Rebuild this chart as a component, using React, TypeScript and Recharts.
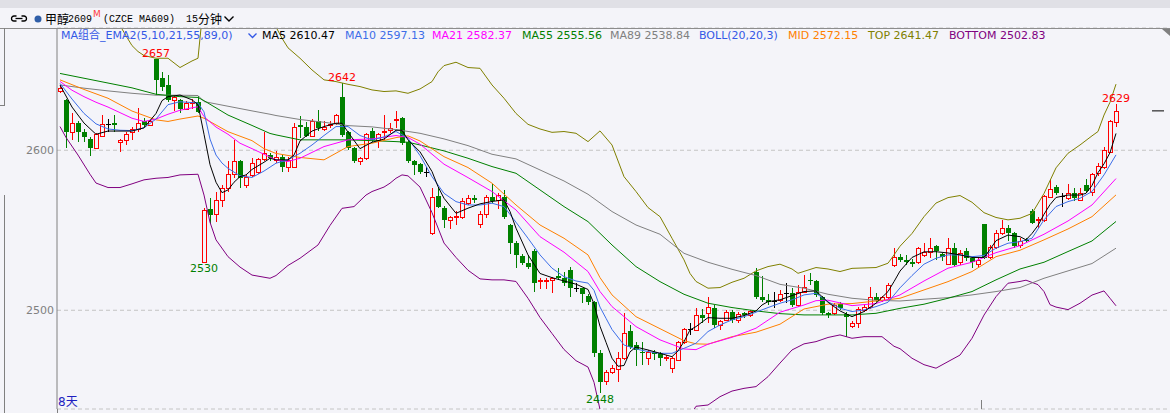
import React from "react";
import {
  ComposedChart,
  Bar,
  Line,
  XAxis,
  YAxis,
  CartesianGrid,
  ReferenceDot,
  ReferenceLine,
} from "recharts";

// 15-minute candles, oldest first
const opens = [
  2637, 2631.5, 2611.7, 2617, 2611.7, 2607, 2601.7, 2609.2, 2616.5, 2617,
  2605, 2606.5, 2611.7, 2613.3, 2618.3, 2616, 2657, 2645.4, 2641, 2631.5,
  2631.5, 2626, 2629.4, 2630, 2530, 2563.3, 2560, 2569, 2576.3, 2585,
  2593.3, 2578.3, 2584.6, 2586.7, 2594.6, 2597, 2594, 2596, 2589.8, 2589.8,
  2615.8, 2614.8, 2609.2, 2618, 2613.3, 2615.8, 2616.9, 2633.5, 2611.3, 2601.3,
  2593, 2595, 2612, 2606.5, 2611.3, 2612.7, 2619.5, 2620, 2605.4, 2593.3,
  2591.2, 2586.7, 2548, 2571.7, 2563.7, 2556.5, 2558, 2558, 2567, 2570,
  2553.7, 2560, 2571, 2569, 2571, 2553.3, 2541.9, 2534.2, 2529.4, 2537,
  2518.3, 2518.3, 2519, 2521.7, 2520, 2525.2, 2514.2, 2513.8, 2509.2, 2505.4,
  2473, 2455.8, 2461.7, 2463.3, 2470, 2487, 2478, 2474, 2470.4, 2474,
  2473.1, 2470, 2463.7, 2469, 2480.4, 2488.3, 2487.7, 2497, 2498, 2501.7,
  2490.8, 2494, 2498.8, 2494, 2498, 2497, 2524.2, 2508.5, 2506.5, 2505.8,
  2506.5, 2510.6, 2510.6, 2503.3, 2511.7, 2519, 2518, 2508.5, 2498, 2498,
  2503.8, 2497.5, 2490.4, 2491.9, 2500.2, 2502.3, 2508.5, 2506.5, 2508.5, 2528.3,
  2533, 2531.2, 2530, 2530, 2534.6, 2536.7, 2540.2, 2535.2, 2528.8, 2538.8,
  2530, 2537.3, 2532.5, 2528.8, 2553.8, 2533.5, 2539.8, 2548.1, 2551.3, 2548.1,
  2540.8, 2544, 2562, 2556.3, 2556.5, 2571, 2577.3, 2571.7, 2570, 2573.1,
  2569, 2578.3, 2574.2, 2585.6, 2589.8, 2599.2, 2617.9,
];
const highs = [
  2640, 2632, 2623, 2618, 2613, 2608, 2611, 2622, 2619.6, 2622,
  2607, 2611.7, 2614.8, 2626.7, 2620, 2619, 2657, 2649, 2647, 2634,
  2632, 2631, 2632, 2634, 2564, 2570, 2574, 2578.3, 2593, 2606.5,
  2594, 2584.6, 2595, 2595.4, 2611.7, 2598, 2599.6, 2597, 2596, 2617,
  2621.7, 2617.5, 2619.6, 2625.2, 2618, 2618, 2622.5, 2642, 2612, 2602,
  2596, 2610.6, 2614, 2611, 2622, 2616.9, 2624.6, 2620.5, 2606, 2594,
  2592, 2589.8, 2576.3, 2576.7, 2565, 2559, 2562, 2570, 2572, 2572,
  2562, 2572, 2578.8, 2573, 2575.2, 2554, 2543, 2535, 2534.6, 2538,
  2520, 2520, 2521, 2526.3, 2524, 2527, 2516.9, 2514, 2510, 2506,
  2475, 2462.7, 2465.8, 2474.2, 2498, 2490.8, 2480.4, 2480, 2475.2, 2475,
  2474, 2472, 2471, 2481, 2488.8, 2492, 2501.3, 2501, 2508.5, 2503,
  2494, 2500.2, 2500, 2499, 2499, 2500, 2526.3, 2521.7, 2510, 2511.7,
  2512.7, 2516.9, 2513.8, 2515.8, 2522, 2523.1, 2519, 2509, 2499, 2504.4,
  2505, 2499, 2493, 2502, 2504, 2514.8, 2510.6, 2509, 2517, 2538.8,
  2535, 2534.6, 2532, 2539.8, 2541.9, 2545, 2541, 2536, 2545, 2541.9,
  2537.7, 2539, 2533, 2533, 2554, 2541, 2550, 2556.5, 2553, 2549,
  2545, 2545, 2563, 2558, 2572, 2582, 2578.3, 2573, 2578.8, 2576.7,
  2576.7, 2582, 2586, 2591.9, 2602, 2619, 2629,
];
const lows = [
  2636, 2601.7, 2606.5, 2605, 2605, 2596.7, 2601, 2608, 2611.7, 2611.7,
  2599, 2603, 2606.5, 2611.3, 2614, 2615, 2634.6, 2637, 2630, 2624.6,
  2623, 2625, 2626, 2623, 2530, 2553.7, 2555, 2564.8, 2574, 2582.5,
  2576.7, 2576.7, 2583, 2585, 2593, 2593, 2592, 2586.7, 2586.7, 2589,
  2607.5, 2608, 2608, 2612, 2612, 2614, 2616, 2608, 2600.2, 2591.9,
  2591, 2594, 2605, 2601.7, 2606.5, 2611, 2614.2, 2603, 2592, 2584.6,
  2585, 2583.5, 2547, 2563.7, 2551.2, 2550.8, 2553.3, 2557, 2566, 2567,
  2551.7, 2557.9, 2567, 2563.3, 2557, 2535, 2526.3, 2528, 2526, 2511.7,
  2513.3, 2513, 2510.6, 2519, 2515, 2508.5, 2511.7, 2504.4, 2503, 2471,
  2448, 2453.3, 2460, 2455, 2469, 2476, 2465.4, 2465.8, 2465.8, 2469,
  2465.4, 2468, 2460.6, 2468, 2479, 2484.6, 2487, 2491.9, 2492, 2488.8,
  2487.7, 2493, 2492, 2492, 2495, 2496, 2507, 2505.4, 2503, 2501.3,
  2505, 2504.4, 2502, 2502, 2511, 2516, 2508, 2497, 2495, 2497,
  2500, 2483.5, 2489, 2488.8, 2499, 2501, 2505, 2505, 2507, 2527,
  2530, 2528, 2527, 2529, 2533, 2532.5, 2531.5, 2531, 2528, 2527,
  2528, 2531, 2526.7, 2526.3, 2532, 2532, 2538, 2547, 2543, 2539.2,
  2539, 2541.9, 2553.8, 2551.3, 2555, 2570, 2572, 2564.8, 2569, 2568,
  2568, 2573, 2571.7, 2584, 2588, 2598, 2614.8,
];
const closes = [
  2639, 2611.3, 2617, 2611.7, 2608, 2601.7, 2610, 2616.3, 2616.5, 2616,
  2606.5, 2610, 2613, 2617, 2616, 2618.3, 2644, 2639.8, 2631.5, 2633.5,
  2626, 2629.8, 2630.4, 2624.2, 2562.7, 2559.6, 2569, 2576.3, 2585, 2593.3,
  2582.5, 2583.5, 2591.9, 2594.6, 2598, 2595, 2596, 2589.8, 2594, 2614.8,
  2614.8, 2609.2, 2618, 2614.2, 2614.8, 2616.3, 2622, 2609.6, 2601.3, 2593,
  2595, 2610, 2606.5, 2610, 2612, 2614.2, 2619.6, 2604.4, 2593, 2590.8,
  2586.7, 2586.7, 2571, 2564.8, 2556.5, 2558, 2559.2, 2568, 2570, 2569,
  2560, 2571, 2568.3, 2572, 2558.5, 2541.9, 2534.6, 2529.4, 2527.3, 2516.9,
  2519, 2519, 2520, 2520, 2516.9, 2513.8, 2514.2, 2510, 2505, 2473.1,
  2455.4, 2461.7, 2464.2, 2470.4, 2485.6, 2477.3, 2475.2, 2473, 2473.8, 2472.5,
  2470, 2471, 2470, 2480, 2488.3, 2488.3, 2497, 2495, 2502.3, 2490.8,
  2493.3, 2498.8, 2494, 2497.5, 2497, 2499.6, 2508.5, 2506.5, 2505, 2505.8,
  2510, 2510.6, 2503.3, 2511.7, 2514.8, 2518, 2509.6, 2498, 2497, 2503.3,
  2501.7, 2496, 2491.9, 2500.8, 2502.3, 2508.5, 2506.5, 2508, 2515.8, 2533,
  2531.5, 2530, 2528.8, 2538.8, 2536.7, 2538.8, 2537, 2533.1, 2538.8, 2528.3,
  2536, 2532.5, 2530.4, 2531.5, 2532.9, 2539.8, 2548.1, 2551.7, 2548.1, 2540.4,
  2543.3, 2543, 2554.4, 2556.9, 2571.7, 2575.8, 2573.1, 2571.7, 2573.5, 2570.4,
  2573.1, 2574.8, 2585, 2590.4, 2600.2, 2618.3, 2624.6,
];

// indicator lines, read as [candle index, value]
const ma5: [number, number][] = [
  [0, 2640.8], [2, 2627], [4, 2617], [6, 2610], [8, 2612], [10, 2612], [12, 2612], [14, 2614],
  [16, 2623], [17, 2631], [18, 2633.5], [20, 2634.5], [22, 2631.5], [23, 2628.5], [24, 2610],
  [25, 2591], [26, 2580], [27, 2573.5], [28, 2575.2], [29, 2580], [30, 2583.5], [31, 2584.6],
  [32, 2588], [34, 2592.5], [35, 2595], [36, 2594], [38, 2594], [39, 2597], [40, 2605.8],
  [42, 2612], [44, 2614.8], [46, 2616.9], [47, 2616.9], [48, 2611.3], [50, 2601], [52, 2605],
  [54, 2607], [56, 2612.5], [57, 2612.5], [58, 2606.5], [60, 2599], [62, 2586.7], [63, 2577.3],
  [64, 2570], [66, 2560.6], [68, 2563.8], [70, 2566.5], [72, 2568], [74, 2569], [75, 2561.7],
  [76, 2551.3], [78, 2534.6], [80, 2523], [82, 2520.4], [84, 2518.3], [86, 2516.3], [88, 2513],
  [89, 2504], [90, 2490], [91, 2480], [92, 2470], [93, 2465], [94, 2465.5], [95, 2474],
  [96, 2477], [98, 2475.2], [100, 2473.1], [102, 2471], [103, 2474.6], [104, 2480.4],
  [105, 2487.7], [106, 2489.8], [108, 2495.4], [110, 2495], [112, 2495], [114, 2496.7],
  [116, 2499.6], [117, 2503.3], [118, 2505.4], [120, 2506.5], [122, 2509.2], [124, 2511.7],
  [126, 2512.1], [128, 2505], [130, 2499.6], [132, 2496], [134, 2499.2], [136, 2504.4],
  [138, 2511.7], [139, 2517.9], [140, 2524.5], [142, 2533], [144, 2536.5], [146, 2536.6],
  [148, 2535.8], [150, 2534.6], [152, 2533], [154, 2533], [155, 2538], [156, 2543.5],
  [158, 2547], [160, 2546], [161, 2544], [162, 2548], [163, 2553], [164, 2560], [165, 2566],
  [166, 2570.5], [168, 2572], [170, 2572], [171, 2573.1], [172, 2578], [173, 2586],
  [174, 2591.5], [175, 2598.5], [176, 2610.5],
];
const ma10: [number, number][] = [
  [0, 2641.8], [2, 2632], [4, 2623], [6, 2616.5], [8, 2613.3], [10, 2612.5], [12, 2612.3],
  [14, 2614], [16, 2619.5], [18, 2628.5], [20, 2630.3], [22, 2629.8], [23, 2629.5], [24, 2624],
  [25, 2607], [26, 2597], [27, 2592], [28, 2588.7], [30, 2584], [32, 2583], [34, 2587],
  [36, 2591.9], [38, 2594], [40, 2598.1], [42, 2603.3], [44, 2609.2], [46, 2614.8], [48, 2614.8],
  [50, 2609.2], [52, 2606.5], [54, 2608.3], [56, 2611.7], [58, 2607.5], [60, 2596.7],
  [62, 2583.5], [64, 2573.1], [66, 2567.9], [68, 2565.8], [70, 2565.8], [72, 2566.9],
  [74, 2564.8], [76, 2555], [78, 2545], [80, 2534.6], [82, 2526.3], [84, 2521], [86, 2518.3],
  [88, 2517], [89, 2512.5], [90, 2502], [91, 2495], [92, 2488], [94, 2478.3], [96, 2475.8],
  [98, 2474.2], [100, 2473.1], [102, 2473.1], [104, 2476.2], [106, 2479.4], [108, 2486.7],
  [110, 2490.8], [112, 2494], [114, 2496], [116, 2498.8], [118, 2501.7], [120, 2504.4],
  [122, 2506.5], [124, 2509.6], [126, 2510.6], [128, 2505.4], [130, 2501.3], [132, 2499.2],
  [134, 2500.2], [136, 2502.3], [138, 2505], [140, 2514], [142, 2521.7], [144, 2528.8],
  [146, 2532.5], [148, 2534.6], [150, 2534.6], [152, 2533.5], [154, 2534.2], [156, 2538.8],
  [158, 2541.9], [160, 2542.9], [162, 2545], [164, 2556.5], [166, 2564.8], [168, 2567.9],
  [170, 2570], [172, 2574.2], [174, 2584.6], [176, 2597.1],
];
const ma21: [number, number][] = [
  [0, 2643], [2, 2637.5], [4, 2633.5], [6, 2630], [8, 2627], [10, 2623.5], [12, 2620],
  [14, 2618], [16, 2619.5], [18, 2622.5], [20, 2625], [22, 2626.5], [23, 2627.2], [24, 2621],
  [26, 2614.5], [28, 2610], [30, 2604.4], [32, 2601], [36, 2594], [38, 2593], [40, 2595],
  [44, 2602.3], [48, 2606.5], [52, 2607.1], [56, 2609.2], [58, 2608], [60, 2603.8],
  [64, 2591.3], [68, 2582.9], [72, 2574.2], [76, 2562.7], [80, 2546], [84, 2536.3],
  [88, 2524.2], [90, 2511.7], [92, 2502.3], [96, 2489.8], [100, 2481.5], [104, 2475.8],
  [106, 2475.4], [108, 2478.8], [112, 2483.1], [116, 2488.8], [120, 2498.8], [124, 2503.3],
  [126, 2506], [128, 2506.3], [132, 2502.9], [136, 2504.2], [140, 2509.6], [144, 2518.3],
  [148, 2526.3], [152, 2530], [156, 2536], [160, 2540.4], [164, 2547.5], [168, 2555.8],
  [172, 2565.8], [176, 2582.3],
];
const ma55: [number, number][] = [
  [0, 2648], [4, 2645], [8, 2642], [12, 2639], [16, 2635], [20, 2633.5], [23, 2633],
  [24, 2631], [28, 2622], [32, 2615.5], [35, 2610.5], [36, 2609.6], [40, 2606.5], [44, 2606.5],
  [48, 2606.5], [52, 2606], [56, 2605.4], [58, 2605], [60, 2603.3], [64, 2599.6], [68, 2595],
  [72, 2589.8], [76, 2585.6], [80, 2575.2], [84, 2564.8], [88, 2555.4], [92, 2540.8],
  [96, 2527.3], [100, 2517.9], [104, 2510], [108, 2504.4], [112, 2501.7], [116, 2499.6],
  [120, 2497.9], [124, 2497.1], [128, 2497.1], [132, 2497.1], [136, 2498.1], [140, 2501.2],
  [144, 2503.8], [148, 2507.5], [152, 2511.7], [156, 2519], [160, 2525.8], [164, 2530],
  [168, 2536.7], [172, 2543.3], [176, 2555.5],
];
const ma89: [number, number][] = [
  [0, 2640.8], [4, 2638.8], [8, 2637.1], [12, 2635.6], [16, 2634.4], [20, 2634.4], [23, 2634.2],
  [24, 2630.4], [28, 2627.5], [32, 2624.6], [35, 2622.5], [36, 2621.7], [40, 2619.2],
  [44, 2617.5], [48, 2615.4], [52, 2614.6], [56, 2612.9], [60, 2610.6], [64, 2607.1],
  [68, 2602.9], [72, 2597.5], [76, 2594.6], [80, 2587.7], [84, 2580.8], [88, 2572.5],
  [92, 2561.7], [96, 2553.3], [100, 2547.5], [104, 2535.6], [108, 2530], [112, 2525.6],
  [116, 2521.7], [120, 2516.2], [124, 2513.8], [128, 2510], [132, 2507.5], [136, 2506.2],
  [140, 2505.8], [144, 2506.9], [148, 2507.9], [152, 2509.6], [156, 2511.7], [160, 2514.2],
  [164, 2520], [168, 2524.6], [172, 2529.2], [176, 2538.8],
];
const bollMid: [number, number][] = [
  [0, 2644], [4, 2638], [8, 2632.5], [12, 2624.5], [16, 2619], [18, 2618], [20, 2619.5],
  [23, 2621.4], [24, 2620], [28, 2611.6], [32, 2606], [34, 2601], [36, 2598], [40, 2595.5],
  [44, 2594], [48, 2602.3], [52, 2604.4], [56, 2607.9], [58, 2609], [60, 2605.8], [64, 2596],
  [68, 2589.2], [72, 2579.4], [76, 2565.8], [80, 2553.3], [84, 2545], [88, 2534.6],
  [90, 2520.4], [92, 2509.6], [96, 2496], [100, 2488.5], [104, 2481], [106, 2479],
  [108, 2478.8], [112, 2483.5], [116, 2486.3], [120, 2491.3], [124, 2500.8], [128, 2503.8],
  [132, 2504.2], [136, 2505.8], [140, 2507.5], [144, 2512.7], [148, 2517.9], [152, 2524.2],
  [156, 2533.5], [160, 2537.5], [164, 2544], [168, 2550.8], [172, 2558.5], [176, 2572.1],
];
const bollTop: [number, number][] = [
  [0, 2692], [4, 2690], [8, 2684], [10, 2678], [11, 2671.5], [12, 2665.4], [13, 2661.7],
  [14, 2659.2], [16, 2657.5], [18, 2657.5], [20, 2651.7], [22, 2655.8], [23, 2657.5],
  [24, 2695], [28, 2708], [32, 2702], [35, 2684], [37, 2670], [38, 2664], [40, 2657.5],
  [42, 2650.2], [44, 2644], [46, 2642.9], [48, 2641.2], [50, 2639.8], [52, 2637.7],
  [54, 2636.7], [56, 2637.1], [58, 2635.6], [60, 2638.3], [62, 2642.9], [63, 2649],
  [64, 2652.9], [66, 2655], [68, 2651.7], [70, 2651.2], [72, 2640.8], [74, 2632.5],
  [76, 2623], [78, 2616.2], [80, 2613.3], [82, 2611.2], [84, 2611.7], [86, 2610.6],
  [88, 2605.4], [90, 2612.1], [92, 2603.3], [94, 2583.5], [96, 2574.2], [98, 2564.2],
  [100, 2558.5], [102, 2545], [104, 2531.5], [105, 2523], [106, 2518], [108, 2513.8],
  [110, 2514.2], [112, 2517.5], [114, 2520], [116, 2524.6], [118, 2527.3], [120, 2528.8],
  [122, 2525.8], [123, 2523.1], [126, 2526.7], [128, 2525.8], [130, 2524.2], [132, 2526.2],
  [136, 2526.7], [138, 2529.4], [139, 2534.6], [140, 2540], [142, 2548], [144, 2558.5],
  [146, 2567], [148, 2570.4], [150, 2571.7], [152, 2567.5], [154, 2561], [156, 2558],
  [158, 2556.5], [160, 2557.5], [162, 2560.5], [164, 2573], [166, 2589], [168, 2598.1],
  [170, 2603.3], [172, 2609], [173, 2611.7], [174, 2622], [175, 2630], [176, 2641.3],
];
const bollBottom: [number, number][] = [
  [0, 2614.8], [1, 2608], [3, 2597], [5, 2585], [6, 2579.5], [8, 2576.7], [10, 2576.7],
  [12, 2579], [14, 2581.5], [16, 2582.5], [18, 2583], [20, 2584.6], [23, 2585], [24, 2572],
  [25, 2555], [26, 2544], [28, 2533.5], [30, 2527], [32, 2522], [35, 2520], [36, 2521.7],
  [38, 2528], [40, 2532.5], [43, 2540.8], [45, 2553], [47, 2563.7], [49, 2564.8], [51, 2572],
  [52, 2574.2], [54, 2577], [55, 2579.4], [56, 2582.5], [57, 2584.6], [58, 2584], [60, 2577],
  [62, 2561], [64, 2542], [66, 2533], [68, 2525], [70, 2519.6], [72, 2519], [74, 2519],
  [76, 2518], [78, 2507.5], [80, 2495.5], [82, 2485.5], [84, 2475.5], [86, 2468.5],
  [88, 2464.5], [89, 2455], [90, 2438], [92, 2425], [96, 2415], [100, 2416], [104, 2428],
  [106, 2440], [108, 2440.8], [110, 2446], [112, 2449.5], [114, 2451.2], [116, 2452.3],
  [118, 2458.5], [120, 2467], [122, 2475.2], [124, 2479], [126, 2480.4], [128, 2483],
  [130, 2484.6], [132, 2482.5], [134, 2483.5], [137, 2483.5], [139, 2477.5], [140, 2476],
  [142, 2470], [144, 2466], [146, 2463.8], [148, 2467.9], [150, 2472], [152, 2482.5],
  [154, 2497], [156, 2508.5], [158, 2516.9], [160, 2518], [161, 2518.8], [163, 2516],
  [164, 2511.7], [165, 2503.5], [166, 2502], [168, 2500.4], [170, 2504.4], [172, 2509.5],
  [174, 2512.1], [175, 2507.5], [176, 2502.8],
];

const priceTicks = [2500, 2600];
const priceDomain = [2438.3, 2676.4];
const slotCount = 185; // candles plus the empty room on the right
const peaks = [
  { i: 16, side: "high" },
  { i: 47, side: "high" },
  { i: 176, side: "high" },
  { i: 24, side: "low" },
  { i: 90, side: "low" },
];

const BG = "#f4f4f9";
const UP = "#ff0000";
const DOWN = "#008000";
const FONT = "'DejaVu Sans', Verdana, 'Noto Sans CJK SC', sans-serif";
const CJK = "'Noto Sans CJK SC', sans-serif";
const MONO = "'Liberation Mono', monospace";

const series = [
  { key: "top", pts: bollTop, color: "#808000" },
  { key: "bottom", pts: bollBottom, color: "#800080" },
  { key: "ma89", pts: ma89, color: "#808080" },
  { key: "ma55", pts: ma55, color: "#008000" },
  { key: "mid", pts: bollMid, color: "#ff8000" },
  { key: "ma21", pts: ma21, color: "#ff00ff" },
  { key: "ma10", pts: ma10, color: "#3d6ee8" },
  { key: "ma5", pts: ma5, color: "#000000" },
];

const rows = Array.from({ length: slotCount }, (_, i) => {
  const row: any = { i };
  if (i < closes.length) {
    row.range = [lows[i], highs[i]];
    row.o = opens[i];
    row.h = highs[i];
    row.l = lows[i];
    row.c = closes[i];
  }
  series.forEach((s) => {
    const hit = s.pts.find((p) => p[0] === i);
    row[s.key] = hit ? hit[1] : null;
  });
  return row;
});

function Candle(props: any) {
  const { x, y, width, height, payload } = props;
  if (!payload || payload.o == null || !isFinite(y) || !isFinite(height)) return null;
  const { o, h, l, c } = payload;
  const k = height / (h - l);
  const py = (v: number) => y + (h - v) * k;
  const p = Math.floor(x + width / 2);
  const wx = p + 0.5;
  const top = Math.round(py(Math.max(o, c)));
  const bot = Math.round(py(Math.min(o, c)));

  if (o === c) {
    return (
      <g stroke="#000" strokeWidth={1} shapeRendering="crispEdges">
        <line x1={wx} x2={wx} y1={y} y2={y + height} />
        <line x1={p - 2} x2={p + 3} y1={top + 0.5} y2={top + 0.5} />
      </g>
    );
  }
  if (c > o) {
    const bt = top + 0.5;
    const bb = Math.max(bot + 0.5, bt + 1);
    return (
      <g stroke={UP} strokeWidth={1} shapeRendering="crispEdges">
        <line x1={wx} x2={wx} y1={y} y2={bt} />
        <line x1={wx} x2={wx} y1={bb} y2={y + height} />
        <rect x={p - 1.5} y={bt} width={4} height={bb - bt} fill={BG} />
      </g>
    );
  }
  return (
    <g shapeRendering="crispEdges">
      <line x1={wx} x2={wx} y1={y} y2={y + height} stroke={DOWN} strokeWidth={1} />
      <rect x={p - 2} y={top} width={5} height={Math.max(bot - top, 1)} fill={DOWN} />
    </g>
  );
}

const abs = (style: React.CSSProperties): React.CSSProperties => ({
  position: "absolute",
  whiteSpace: "nowrap",
  ...style,
});

export default function App() {
  const last = closes[closes.length - 1];
  return (
    <div
      style={{
        position: "relative",
        width: 1170,
        height: 413,
        background: BG,
        overflow: "hidden",
        fontFamily: FONT,
      }}
    >
      <style>{`body{margin:0}`}</style>

      <div style={abs({ left: 0, top: 0 })}>
        <ComposedChart
          width={1170}
          height={413}
          data={rows}
          margin={{ top: 28, right: 3, bottom: 4, left: 0 }}
        >
          <CartesianGrid vertical={false} stroke="#c4c4c4" strokeDasharray="4 3" />
          <XAxis
            dataKey="i"
            type="category"
            height={0}
            tick={false}
            tickLine={false}
            axisLine={{ stroke: "#808080" }}
          />
          <YAxis
            domain={priceDomain}
            allowDataOverflow
            ticks={priceTicks}
            width={57}
            tickSize={0}
            tickMargin={3}
            tickLine={false}
            axisLine={{ stroke: "#808080" }}
            tick={{ fill: "#808080", fontSize: 11, fontFamily: FONT }}
          />
          <Bar
            dataKey="range"
            barSize={5}
            isAnimationActive={false}
            shape={(p: any) => <Candle {...p} />}
          />
          {series.map((s) => (
            <Line
              key={s.key}
              type="linear"
              dataKey={s.key}
              stroke={s.color}
              strokeWidth={1}
              dot={false}
              activeDot={false}
              connectNulls
              isAnimationActive={false}
            />
          ))}
          <ReferenceLine
            segment={[
              { x: 182, y: last },
              { x: 184, y: last },
            ]}
            stroke="#000"
            strokeWidth={1}
          />
          {peaks.map((pk) => {
            const v = pk.side === "high" ? highs[pk.i] : lows[pk.i];
            return (
              <ReferenceDot
                key={pk.i}
                x={pk.i}
                y={v}
                r={0}
                stroke="none"
                fill="none"
                label={{
                  value: String(Math.round(v)),
                  position: pk.side === "high" ? "top" : "bottom",
                  offset: 2,
                  fill: pk.side === "high" ? UP : "#007f00",
                  fontSize: 11,
                  fontFamily: FONT,
                }}
              />
            );
          })}
        </ComposedChart>
      </div>

      {/* window chrome */}
      <div style={abs({ left: 0, top: 0, width: 1170, height: 8, background: "#e0e0e6" })} />
      <div style={abs({ left: 0, top: 28, width: 1170, height: 1, background: "#8c8c8c" })} />
      <div style={abs({ left: 57, top: 409, width: 1, height: 4, background: "#808080" })} />
      <div style={abs({ left: 4, top: 28, width: 1, height: 77, background: "#808080" })} />
      <div style={abs({ left: 0, top: 105, width: 5, height: 1, background: "#808080" })} />
      <div style={abs({ left: 4, top: 195, width: 1, height: 218, background: "#808080" })} />
      <div style={abs({ left: 981, top: 400, width: 1, height: 9, background: "#808080" })} />
      <svg style={abs({ left: 1162, top: 29 })} width={8} height={7}>
        <polygon points="0,0 8,0 8,7" fill="#808080" />
      </svg>

      {/* toolbar */}
      <svg style={abs({ left: 10, top: 14 })} width={18} height={10}>
        <path d="M6.5 2 H4 A2.5 2.5 0 0 0 4 7 H6.5" stroke="#000" fill="none" strokeWidth={1.3} />
        <path d="M11.5 2 H14 A2.5 2.5 0 0 1 14 7 H11.5" stroke="#000" fill="none" strokeWidth={1.3} />
        <line x1={5.5} x2={12.5} y1={4.5} y2={4.5} stroke="#000" strokeWidth={1.3} />
      </svg>
      <svg style={abs({ left: 34, top: 15 })} width={8} height={8}>
        <circle cx={4} cy={4} r={3.5} fill="#2f5ea8" />
      </svg>
      <span style={abs({ left: 45, top: 11, fontSize: 12, lineHeight: "16px", fontFamily: CJK, color: "#000" })}>
        甲醇
      </span>
      <span style={abs({ left: 68, top: 12, fontSize: 10, lineHeight: "16px", fontFamily: MONO, color: "#000" })}>
        2609
      </span>
      <span style={abs({ left: 93, top: 8, fontSize: 9, lineHeight: "12px", fontFamily: FONT, color: "#ff4040" })}>
        M
      </span>
      <span style={abs({ left: 103, top: 12, fontSize: 10, lineHeight: "16px", fontFamily: MONO, color: "#000" })}>
        (CZCE MA609)
      </span>
      <span style={abs({ left: 186, top: 12, fontSize: 10, lineHeight: "16px", fontFamily: MONO, color: "#000" })}>
        15
      </span>
      <span style={abs({ left: 198, top: 11, fontSize: 12, lineHeight: "16px", fontFamily: CJK, color: "#000" })}>
        分钟
      </span>
      <svg style={abs({ left: 224, top: 16 })} width={10} height={7}>
        <polyline points="0.5,0.5 5,5 9.5,0.5" stroke="#000" fill="none" strokeWidth={1.4} />
      </svg>

      {/* indicator legend */}
      <div style={abs({ left: 0, top: 29, height: 13, fontSize: 11, lineHeight: "13px" })}>
        <span style={abs({ left: 61, top: 0, color: "#3358e6" })}>MA组合_EMA2(5,10,21,55,89,0)</span>
        <svg style={abs({ left: 248, top: 4 })} width={9} height={6}>
          <polyline points="0.5,0.5 4.5,4.5 8.5,0.5" stroke="#3358e6" fill="none" strokeWidth={1.3} />
        </svg>
        <span style={abs({ left: 262, top: 0, color: "#000000" })}>MA5 2610.47</span>
        <span style={abs({ left: 345, top: 0, color: "#3d6ee8" })}>MA10 2597.13</span>
        <span style={abs({ left: 432, top: 0, color: "#ff00ff" })}>MA21 2582.37</span>
        <span style={abs({ left: 522, top: 0, color: "#008000" })}>MA55 2555.56</span>
        <span style={abs({ left: 610, top: 0, color: "#808080" })}>MA89 2538.84</span>
        <span style={abs({ left: 699, top: 0, color: "#3358e6" })}>BOLL(20,20,3)</span>
        <span style={abs({ left: 788, top: 0, color: "#ff8000" })}>MID 2572.15</span>
        <span style={abs({ left: 868, top: 0, color: "#808000" })}>TOP 2641.47</span>
        <span style={abs({ left: 949, top: 0, color: "#800080" })}>BOTTOM 2502.83</span>
      </div>

      <span style={abs({ left: 58, top: 395, fontSize: 12, lineHeight: "14px", color: "#1e1ec0", fontFamily: FONT })}>
        8天
      </span>
    </div>
  );
}
